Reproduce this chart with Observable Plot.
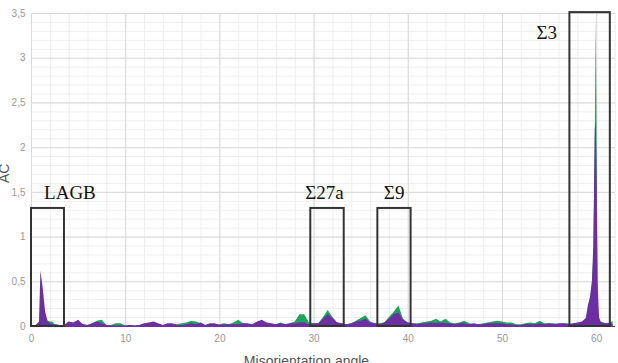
<!DOCTYPE html>
<html>
<head>
<meta charset="utf-8">
<script src="https://cdn.jsdelivr.net/npm/d3@7"></script>
<script src="https://cdn.jsdelivr.net/npm/@observablehq/plot@0.6"></script>
<style>
  html, body { margin: 0; padding: 0; background: white; }
  #chart { width: 618px; height: 363px; overflow: hidden; }
</style>
</head>
<body>
<div id="chart"></div>
<script>
// Misorientation angle (degrees)
const angle = [0, 0.5, 0.85, 1, 1.25, 1.5, 1.75, 2, 2.25,
  2.5, 3, 3.5, 4, 4.5, 5, 5.5, 6, 6.5, 7, 7.5, 8, 8.5, 9, 9.5, 10,
  10.5, 11, 11.5, 12, 12.5, 13, 13.5, 14, 14.5, 15, 15.5, 16, 16.5, 17, 17.5, 18,
  18.5, 19, 19.5, 20, 20.5, 21, 21.5, 22, 22.5, 23, 23.5, 24, 24.5, 25, 25.5, 26,
  26.5, 27, 27.5, 28, 28.5, 29, 29.5, 30, 30.5, 31, 31.5, 32, 32.5, 33, 33.5, 34,
  34.5, 35, 35.5, 36, 36.5, 37, 37.5, 38, 38.5, 39, 39.5, 40, 40.5, 41, 41.5, 42,
  42.5, 43, 43.5, 44, 44.5, 45, 45.5, 46, 46.5, 47, 47.5, 48, 48.5, 49, 49.5, 50,
  50.5, 51, 51.5, 52, 52.5, 53, 53.5, 54, 54.5, 55, 55.5, 56, 56.5, 57, 57.5, 58,
  58.5, 58.9, 59.1, 59.35, 59.55, 59.7, 59.85, 59.95, 60.05, 60.15, 60.3, 60.5, 61, 61.5, 61.75];

// Green series (drawn behind)
const green = [0, 0, 0, 0.1, 0.18, 0.1, 0.06, 0.05, 0.05,
  0.02, 0.01, 0.01, 0.03, 0.03, 0.04, 0.02, 0.01, 0.03, 0.06, 0.07, 0.01, 0.01, 0.03, 0.03, 0.005,
  0.01, 0.005, 0.01, 0.02, 0.03, 0.04, 0.02, 0.01, 0.02, 0.02, 0.02, 0.03, 0.04, 0.06, 0.05, 0.03,
  0.01, 0.02, 0.02, 0.02, 0.03, 0.02, 0.04, 0.07, 0.03, 0.02, 0.02, 0.04, 0.05, 0.03, 0.02, 0.02,
  0.04, 0.02, 0.03, 0.05, 0.13, 0.13, 0.04, 0.03, 0.03, 0.1, 0.18, 0.1, 0.04, 0.03, 0.02, 0.03,
  0.06, 0.09, 0.12, 0.05, 0.03, 0.03, 0.04, 0.1, 0.16, 0.23, 0.08, 0.04, 0.03, 0.03, 0.04, 0.05,
  0.06, 0.08, 0.05, 0.08, 0.04, 0.03, 0.04, 0.06, 0.03, 0.02, 0.02, 0.03, 0.04, 0.05, 0.06, 0.05,
  0.04, 0.04, 0.02, 0.02, 0.03, 0.04, 0.03, 0.06, 0.03, 0.03, 0.03, 0.02, 0.03, 0.03, 0.02, 0.03,
  0.04, 0.07, 0.15, 0.25, 0.4, 0.8, 2.0, 3.45, 2.0, 0.3, 0.06, 0.05, 0.03, 0.04, 0.06];

// Purple series (drawn in front)
const purple = [0, 0.01, 0.05, 0.62, 0.42, 0.16, 0.06, 0.03, 0.02,
  0.02, 0.01, 0.01, 0.05, 0.04, 0.07, 0.02, 0.01, 0.03, 0.05, 0.03, 0.01, 0.005, 0.005, 0.005, 0.005,
  0.01, 0.005, 0.01, 0.03, 0.04, 0.05, 0.03, 0.01, 0.03, 0.03, 0.01, 0.01, 0.02, 0.03, 0.02, 0.04,
  0.01, 0.03, 0.03, 0.01, 0.02, 0.02, 0.02, 0.02, 0.03, 0.03, 0.02, 0.05, 0.07, 0.04, 0.03, 0.02,
  0.03, 0.02, 0.03, 0.03, 0.04, 0.04, 0.02, 0.03, 0.03, 0.08, 0.13, 0.09, 0.04, 0.03, 0.02, 0.03,
  0.05, 0.06, 0.08, 0.04, 0.03, 0.02, 0.04, 0.08, 0.13, 0.15, 0.07, 0.04, 0.03, 0.02, 0.03, 0.03,
  0.04, 0.03, 0.04, 0.03, 0.03, 0.02, 0.03, 0.03, 0.02, 0.03, 0.02, 0.02, 0.03, 0.03, 0.03, 0.03,
  0.02, 0.02, 0.01, 0.01, 0.02, 0.02, 0.02, 0.03, 0.02, 0.03, 0.02, 0.03, 0.03, 0.02, 0.03, 0.04,
  0.05, 0.09, 0.22, 0.33, 0.51, 0.9, 2.2, 2.3, 1.6, 0.5, 0.1, 0.04, 0.03, 0.03, 0.02];

// Boundary boxes (angle range, AC height)
const boxName = ["LAGB", "Σ27a", "Σ9", "Σ3"];
const boxFrom = [0, 29.65, 36.77, 57.16];
const boxTo = [3.5, 33.2, 40.3, 61.45];
const boxTop = [1.32, 1.32, 1.32, 3.51];
// Label anchor (angle, AC)
const labelAngle = [4.08, 31.1, 38.5, 54.7];
const labelAC = [1.49, 1.49, 1.49, 3.285];

const xTicks = [0, 10, 20, 30, 40, 50, 60];
const yTicks = [0, 0.5, 1, 1.5, 2, 2.5, 3, 3.5];

const rows = angle.map((a, i) => ({angle: a, green: green[i], purple: purple[i]}));
const boxes = boxName.map((n, i) => ({name: n, x1: boxFrom[i], x2: boxTo[i], y2: boxTop[i], lx: labelAngle[i], ly: labelAC[i]}));

const minorX = d3.range(0, 62.01, 2);
const minorY = d3.range(0, 3.501, 0.1);

const GREEN = "#1ea35c";
const PURPLE = "#6b2ea3";

const plot = Plot.plot({
  width: 618,
  height: 363,
  marginLeft: 31,
  marginRight: 3,
  marginTop: 13,
  marginBottom: 37,
  x: {domain: [0, 62]},
  y: {domain: [0, 3.5]},
  style: {fontFamily: "Liberation Sans", fontSize: "10px", background: "white", overflow: "hidden"},
  marks: [
    Plot.gridX(minorX, {stroke: "#efefef", strokeOpacity: 1}),
    Plot.gridY(minorY, {stroke: "#efefef", strokeOpacity: 1}),
    Plot.gridX(xTicks, {stroke: "#d9d9d9", strokeOpacity: 1}),
    Plot.gridY(yTicks, {stroke: "#d9d9d9", strokeOpacity: 1}),
    Plot.areaY(rows, {x: "angle", y: "green", fill: GREEN}),
    Plot.areaY(rows, {x: "angle", y: "purple", fill: PURPLE}),
    Plot.ruleY([0], {stroke: PURPLE, strokeWidth: 1.2}),
    Plot.rect(boxes, {x1: "x1", x2: "x2", y1: 0, y2: "y2", fill: "none", stroke: "#333", strokeWidth: 2}),
    Plot.text(boxes, {x: "lx", y: "ly", text: "name", fontFamily: "Liberation Serif", fontSize: 19, fill: "#111"}),
    Plot.axisX(xTicks, {tickSize: 0, tickPadding: 8, fill: "#999", label: null}),
    Plot.axisY(yTicks, {tickSize: 0, tickPadding: 6, fill: "#999", label: null,
      tickFormat: d => String(d).replace(".", ",")}),
    Plot.text(["Misorientation angle"], {frameAnchor: "bottom", dx: -17, dy: 30, lineAnchor: "top",
      fontSize: 14, fill: "#555"}),
    Plot.text(["AC"], {frameAnchor: "left", dx: -27, dy: 13, rotate: -90, fontSize: 14, fill: "#555"})
  ]
});

document.getElementById("chart").appendChild(plot);
</script>
</body>
</html>
